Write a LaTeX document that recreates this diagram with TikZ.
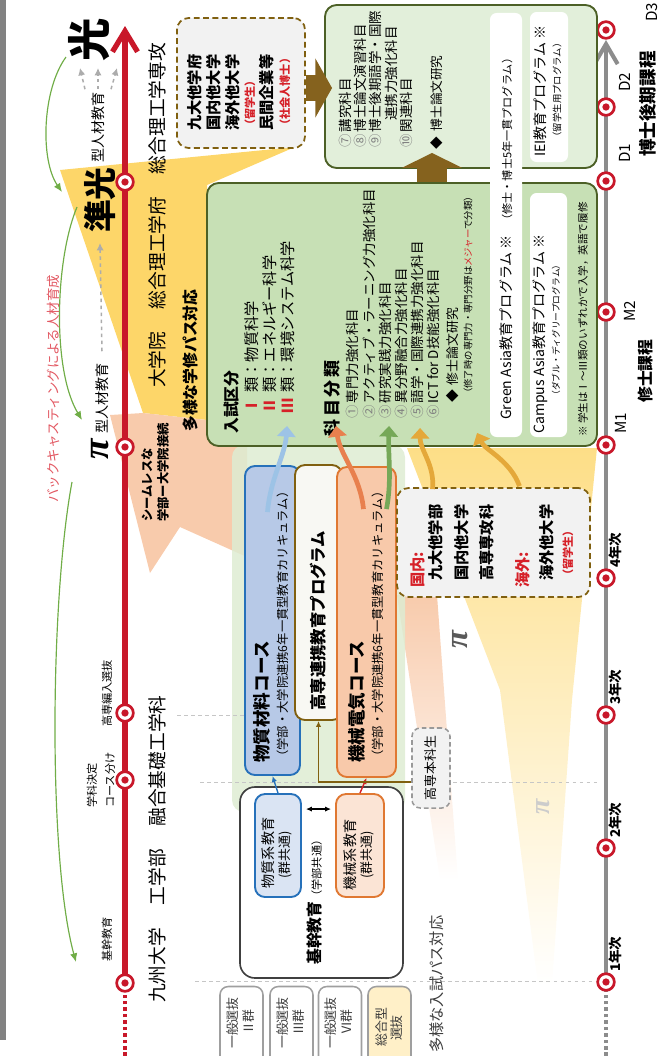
\documentclass[tikz,border=0pt]{standalone}
\usepackage{fontspec}
\setmainfont{Noto Sans CJK JP}
\newfontfamily\grkfont{Liberation Serif}
\usetikzlibrary{arrows.meta,positioning,calc}
\definecolor{timered}{RGB}{200,24,42}
\definecolor{timegray}{RGB}{140,140,140}
\definecolor{stripgray}{RGB}{130,130,130}
\definecolor{boxgreen}{RGB}{199,224,181}
\definecolor{docgreen}{RGB}{226,239,218}
\definecolor{palegreen}{RGB}{222,236,210}
\definecolor{edgegreen}{RGB}{76,96,38}
\definecolor{olive}{RGB}{128,96,16}
\definecolor{brownbar}{RGB}{133,98,30}
\definecolor{fanyellow}{RGB}{253,214,105}
\definecolor{fansalmon}{RGB}{248,203,172}
\definecolor{courseblue}{RGB}{183,201,231}
\definecolor{innerblue}{RGB}{218,228,243}
\definecolor{edgeblue}{RGB}{38,113,186}
\definecolor{courseorange}{RGB}{248,201,170}
\definecolor{innerorange}{RGB}{251,228,213}
\definecolor{edgeorange}{RGB}{224,120,50}
\definecolor{kosenfill}{RGB}{248,248,243}
\definecolor{lightbg}{RGB}{242,242,242}
\definecolor{textred}{RGB}{214,32,40}
\definecolor{arcgreen}{RGB}{112,173,71}
\definecolor{pinktext}{RGB}{226,88,98}
\definecolor{darktext}{RGB}{60,60,60}
\definecolor{flowblue}{RGB}{157,195,230}
\definecolor{floworange}{RGB}{232,128,78}
\definecolor{flowgreen}{RGB}{118,168,88}
\definecolor{flowgold}{RGB}{228,168,58}
\definecolor{sogofill}{RGB}{255,240,200}
\newcommand\setsz[1]{\fontsize{#1}{#1}\selectfont}

\tikzset{
  vt/.style={rotate=90,inner sep=0pt,anchor=west},
  vtc/.style={rotate=90,inner sep=0pt},
  stopring/.style={circle,draw=timered,line width=2.3pt,fill=white,minimum size=0.5cm,inner sep=0pt,
    path picture={\fill[timered] (path picture bounding box.center) circle (1.1mm);}},
  redline/.style={timered,line width=4.5pt},
  grayline/.style={timegray,line width=3.5pt},
  gbox/.style={draw=edgegreen,line width=1.6pt,rounded corners=0.35cm},
  dashbox/.style={draw=olive,line width=1.5pt,dash pattern=on 5pt off 3pt,fill=lightbg,rounded corners=0.35cm},
  wbox/.style={fill=white,rounded corners=0.2cm},
  coursebox/.style={line width=1.6pt,rounded corners=0.3cm},
  entrybox/.style={draw=gray!75,line width=1.3pt,fill=white,rounded corners=0.25cm,minimum width=1.29cm,minimum height=2.49cm},
  guide/.style={gray!45,dashed,line width=0.8pt},
  greenarc/.style={arcgreen,line width=1pt,-{Latex[length=2.6mm,width=2.2mm]}},
  dasharrow/.style={gray!65,dashed,line width=1.3pt,-{Latex[length=2.2mm,width=2.2mm]}},
  flow/.style={line width=4pt,-{Triangle[width=0.55cm,length=0.32cm]}},
  smallarrow/.style={line width=1.2pt,-{Latex[length=1.8mm,width=1.6mm]}},
}

\begin{document}
\begin{tikzpicture}[x=0.03cm,y=-0.03cm]
\useasboundingbox (0,0) rectangle (667,1056);
\fill[stripgray] (0,0) rectangle (6,1040);

% background fans
\fill[fanyellow] (60,170) -- (295,147) -- (207,185) -- (207,420) -- (143,413) -- cycle;
\fill[fansalmon] (110,415) -- (143,413) -- (207,420) -- (247,440) -- (247,557) -- (180,527) -- (150,573) -- cycle;
\shade[top color=fanyellow!80,bottom color=white] (407,448) -- (597,448) -- (572,700) -- (552,985) -- (538,985) -- (500,690) -- cycle;
\shade[top color=fansalmon,bottom color=white] (397,595) -- (437,595) -- (458,880) -- (440,880) -- cycle;
\fill[palegreen,opacity=0.85,rounded corners=0.36cm] (232,445) rectangle (405,812);
\draw[guide] (177,715) -- (245,715);
\draw[guide] (200,782) -- (600,782);
\draw[guide] (195,981) -- (597,981);

% red timeline
\coordinate (rbot) at (125,1056);
\coordinate (rk) at (125,983);
\coordinate (rg) at (125,780);
\coordinate (rh) at (125,713);
\coordinate (rp) at (125,447);
\coordinate (rj) at (125,182);
\coordinate (rtop) at (125,26);
\draw[redline,line width=3.5pt,dash pattern=on 3pt off 2.5pt] (rbot) -- (rk);
\draw[redline,-{Straight Barb[length=0.62cm,width=0.75cm]}] (rk) -- (rtop);
\foreach \c in {rk,rg,rh,rp,rj} \node[stopring] (m\c) at (\c) {};

% gray timeline
\coordinate (gbot) at (606,1056);
\coordinate (y1) at (606,982);
\coordinate (y2) at (606,848);
\coordinate (y3) at (606,715);
\coordinate (y4) at (606,578);
\coordinate (ym1) at (606,445);
\coordinate (ym2) at (606,312);
\coordinate (yd1) at (606,181);
\coordinate (yd2) at (606,107);
\coordinate (yd3) at (606,30);
\draw[grayline,line width=3pt,dash pattern=on 3pt off 2.5pt] (gbot) -- (y1);
\draw[grayline] (y1) -- (yd1);
\draw[grayline,-{Straight Barb[length=0.6cm,width=0.7cm]}] (yd1) -- ($(yd3)+(0,10)$);
\foreach \c in {y1,y2,y3,y4,ym1,ym2,yd1,yd2,yd3} \node[stopring] (m\c) at (\c) {};

\node[vt,font=\setsz{11.5}\bfseries] (l1) at (615,972) {1年次};
\node[vt,font=\setsz{11.5}\bfseries] (l2) at (615,838) {2年次};
\node[vt,font=\setsz{11.5}\bfseries] (l3) at (615,705) {3年次};
\node[vt,font=\setsz{11.5}\bfseries] (l4) at (615,568) {4年次};
\node[vt,font=\setsz{13}] (lm1) at (621,434) {M1};
\node[vt,font=\setsz{13}] (lm2) at (630,322) {M2};
\node[vt,font=\setsz{13}] (ld1) at (625,163) {D1};
\node[vt,font=\setsz{13}] (ld2) at (625,92) {D2};
\node[vt,font=\setsz{13}] (ld3) at (652,22) {D3};
\node[vt,font=\setsz{13.5}\bfseries] (mcourse) at (645,403) {修士課程};
\node[vt,font=\setsz{15}\bfseries] (dcourse) at (648,157) {博士後期課程};

% left column labels
\node[vtc,font=\setsz{37}\bfseries] (hikari) at (89,40) {光};
\node[vtc,font=\setsz{28}\bfseries] (junko) at (100,200) {準光};
\node[vt,font=\setsz{12}] (jkup) at (98,163) {型人材教育};
\node[vtc,font=\grkfont\setsz{32}\bfseries\itshape] (pimark) at (100,449) {π};
\node[vt,font=\setsz{12}] (jklow) at (102,434) {型人材教育};
\node[vt,font=\setsz{16}] (gradttl) at (157,388) {大学院\hspace{1.2em}総合理工学府\hspace{1.2em}総合理工学専攻};
\node[vt,font=\setsz{13.5}\bfseries] (gradpath) at (190,432) {多様な学修パス対応};
\node[vt,font=\setsz{10.5}\bfseries] (seam1) at (147,522) {シームレスな};
\node[vt,font=\setsz{10.5}\bfseries] (seam2) at (163,522) {学部ー大学院接続};
\node[vt,font=\setsz{16}] (ugttl) at (157,1003) {九州大学\hspace{1.2em}工学部\hspace{1.2em}融合基礎工学科};
\node[vt,font=\setsz{13},text=darktext] (ugpath) at (437,1053) {多様な入試パス対応};
\node[vt,font=\setsz{9.5}] (lkikan) at (107,962) {基幹教育};
\node[vt,font=\setsz{9.5}] (lgakka1) at (92,808) {学科決定};
\node[vt,font=\setsz{9.5}] (lgakka2) at (110,808) {コース分け};
\node[vt,font=\setsz{9.5}] (lhennyu) at (107,727) {高専編入選抜};
\node[vt,font=\setsz{11.5},text=pinktext] (backcast) at (53,503) {バックキャスティングによる人材育成};

% backcasting arcs and dashed arrows
\coordinate (a1s) at (66,57);
\coordinate (a1e) at (62,192);
\coordinate (a2s) at (77,207);
\coordinate (a2e) at (82,420);
\coordinate (a3s) at (72,482);
\coordinate (a3e) at (76,962);
\draw[greenarc] (a1s) .. controls (42,90) and (40,160) .. (a1e);
\draw[greenarc] (a2s) .. controls (55,260) and (52,370) .. (a2e);
\draw[greenarc] (a3s) .. controls (50,600) and (48,860) .. (a3e);
\coordinate (upl) at (80,68);
\coordinate (upc) at (98,68);
\coordinate (upr) at (117,68);
\draw[dasharrow] ($(jkup.east)+(-13,-3)$) -- (upl);
\draw[dasharrow] ($(jkup.east)+(0,-3)$) -- (upc);
\draw[dasharrow] ($(jkup.east)+(13,-3)$) -- (upr);
\draw[dasharrow] ($(jklow.east)+(0,-12)$) -- ($(junko.west)+(0,10)$);

% graduate school boxes
\node[gbox,fill=boxgreen,minimum width=11.7cm,minimum height=7.89cm] (master) at (402,314.5) {};
\node[gbox,fill=docgreen,minimum width=8.16cm,minimum height=4.89cm] (docbox) at (461,86.5) {};
\node[wbox,minimum width=0.96cm,minimum height=12.72cm] (gabox) at (506,225) {};
\node[wbox,minimum width=1.11cm,minimum height=7.32cm] (cabox) at (548.5,315) {};
\node[wbox,minimum width=1.14cm,minimum height=4.5cm] (ieibox) at (549,87) {};
\node[dashbox,minimum width=3.84cm,minimum height=3.9cm] (other) at (241,83) {};

\draw[brownbar,line width=0.8cm,-{Triangle[width=1.75cm,length=0.5cm]}] ($(other.east)+(0,5)$) -- ($(other.east -| docbox.west)+(8,5)$);
\draw[brownbar,line width=0.9cm,-{Triangle[width=1.8cm,length=0.45cm]}] ($(master.north)+(30,0)$) -- ($(docbox.south -| master.north)+(30,-16)$);

\node[vt,font=\setsz{13}\bfseries] (o1) at (195,131) {九大他学府};
\node[vt,font=\setsz{13}\bfseries] (o2) at (214,131) {国内他大学};
\node[vt,font=\setsz{13}\bfseries] (o3) at (233,131) {海外他大学};
\node[vt,font=\setsz{9.5}\bfseries,text=textred] (o4) at (250,131) {（留学生）};
\node[vt,font=\setsz{13}\bfseries] (o5) at (267,131) {民間企業等};
\node[vt,font=\setsz{9.5}\bfseries,text=textred] (o6) at (285,131) {（社会人博士）};

\node[vt,font=\setsz{13.5}\bfseries] (nyushi) at (232,434) {入試区分};
\node[vt,font=\setsz{13}] (rui1) at (252,414) {{\color{textred}\bfseries Ⅰ}\hspace{5pt}類：物質科学};
\node[vt,font=\setsz{13}] (rui2) at (270,414) {{\color{textred}\bfseries Ⅱ}\hspace{5pt}類：エネルギー科学};
\node[vt,font=\setsz{13}] (rui3) at (288,414) {{\color{textred}\bfseries Ⅲ}\hspace{5pt}類：環境システム科学};
\node[vt,font=\setsz{14.5}\bfseries] (kamoku) at (332,437) {科\,目\,分\,類};
\node[vt,font=\setsz{11.5}] (k1) at (352,419) {{\color{gray}①}\,専門力強化科目};
\node[vt,font=\setsz{11.5}] (k2) at (369,419) {{\color{gray}②}\,アクティブ・ラーニング力強化科目};
\node[vt,font=\setsz{11.5}] (k3) at (385,419) {{\color{gray}③}\,研究実践力強化科目};
\node[vt,font=\setsz{11.5}] (k4) at (401,419) {{\color{gray}④}\,異分野融合力強化科目};
\node[vt,font=\setsz{11.5}] (k5) at (417,419) {{\color{gray}⑤}\,語学・国際連携力強化科目};
\node[vt,font=\setsz{11.5}] (k6) at (433,419) {{\color{gray}⑥}\,ICT for D技能強化科目};
\node[vt,font=\setsz{11}] (thesism) at (453,403) {◆\hspace{4pt}修士論文研究};
\node[vt,font=\setsz{8}] (thesisnote) at (468,398) {（修了時の専門力・専門分野は{\color{textred}メジャー}で分類）};
\node[vt,font=\setsz{12}] (ga) at (506,420) {Green Asia教育プログラム ※\hspace{8pt}{\setsz{9.5}（修士・博士5年一貫プログラム）}};
\node[vtc,font=\setsz{12}] (ca1) at (540,334) {Campus Asia教育プログラム ※};
\node[vtc,font=\setsz{7.5}] (ca2) at (556,330) {（ダブル・ディグリープログラム）};
\node[vt,font=\setsz{9}] (entnote) at (583,437) {※ 学生はⅠ〜Ⅲ類のいずれかで入学，英語で履修};

\node[vt,font=\setsz{11.5}] (d7) at (345,148) {{\color{gray}⑦}\,講究科目};
\node[vt,font=\setsz{11.5}] (d8) at (360,148) {{\color{gray}⑧}\,博士論文演習科目};
\node[vt,font=\setsz{11.5}] (d9) at (375,148) {{\color{gray}⑨}\,博士後期語学・国際};
\node[vt,font=\setsz{11.5}] (d9b) at (391,121) {連携力強化科目};
\node[vt,font=\setsz{11.5}] (d10) at (406,148) {{\color{gray}⑩}\,関連科目};
\node[vt,font=\setsz{10.8}] (thesisd) at (437,150) {◆\hspace{5pt}博士論文研究};
\node[vtc,font=\setsz{12}] (iei1) at (540,91) {IEI教育プログラム ※};
\node[vtc,font=\setsz{8}] (iei2) at (557,90) {（留学生用プログラム）};

% undergraduate boxes
\node[coursebox,draw=edgeblue,fill=courseblue,minimum width=1.65cm,minimum height=9.27cm] (bluecourse) at (272.5,620.5) {};
\node[coursebox,draw=olive,fill=kosenfill,minimum width=1.41cm,minimum height=7.65cm] (kosen) at (318.5,592.5) {};
\node[coursebox,draw=edgeorange,fill=courseorange,minimum width=1.77cm,minimum height=9.3cm] (orangecourse) at (366.5,622) {};
\node[vt,font=\setsz{15}\bfseries] (bluettl) at (262,763) {物質材料コース};
\node[vt,font=\setsz{10.5}] (bluesub) at (283,763) {（学部・大学院連携6年一貫型教育カリキュラム）};
\node[vt,font=\setsz{14}\bfseries] (kosenttl) at (318,711) {高専連携教育プログラム};
\node[vt,font=\setsz{15}\bfseries] (orangettl) at (357,763) {機械電気コース};
\node[vt,font=\setsz{10.5}] (orangesub) at (378,763) {（学部・大学院連携6年一貫型教育カリキュラム）};

\node[draw=black!75,line width=1.4pt,fill=white,rounded corners=0.45cm,minimum width=4.89cm,minimum height=5.73cm] (kikan) at (321.5,882.5) {};
\node[coursebox,draw=edgeblue,fill=innerblue,minimum width=1.38cm,minimum height=3.09cm] (ibox) at (278,845.5) {};
\node[coursebox,draw=edgeorange,fill=innerorange,minimum width=1.44cm,minimum height=3.09cm] (obox) at (360,845.5) {};
\node[vt] (kikanttl) at (315,965) {{\setsz{13.5}\bfseries 基幹教育}{\setsz{9.5}（学部共通）}};
\node[vtc,font=\setsz{12}] (ibt1) at (268,853) {物質系教育};
\node[vtc,font=\setsz{11}] (ibt2) at (285,855) {(群共通)};
\node[vtc,font=\setsz{12}] (obt1) at (350,855) {機械系教育};
\node[vtc,font=\setsz{11}] (obt2) at (367,855) {(群共通)};

\node[draw=gray!80,line width=1.3pt,dash pattern=on 4pt off 2.5pt,fill=lightbg,rounded corners=0.25cm,minimum width=1.14cm,minimum height=2.4cm] (honka) at (431,768) {};
\node[vtc,font=\setsz{11}] (honkat) at (431,768) {高専本科生};

\draw[smallarrow,edgeblue] (ibox.north) -- (bluecourse.south);
\draw[smallarrow,textred] (obox.north) -- (orangecourse.south);
\draw[line width=1.2pt,{Latex[length=1.8mm,width=1.6mm]}-{Latex[length=1.8mm,width=1.6mm]}] ($(ibox.north east)+(4,16)$) -- ($(obox.north west)+(-4,16)$);
\draw[smallarrow,olive] ($(honka.west)+(0,14)$) -| (kosen.south);

% entrance routes
\foreach \cx/\nm/\grp in {241.5/ent1/Ⅱ群,291.5/ent2/Ⅲ群,340/ent3/Ⅵ群}{
  \node[entrybox] (\nm) at (\cx,1028) {};
  \node[vtc,font=\setsz{11},text=darktext] (\nm a) at (\cx-9,1023) {一般選抜};
  \node[vtc,font=\setsz{11},text=darktext] (\nm b) at (\cx+7,1022) {\grp};
}
\node[entrybox,fill=sogofill] (ent4) at (389.5,1028) {};
\node[vtc,font=\setsz{11},text=darktext] (ent4a) at (382,1027) {総合型};
\node[vtc,font=\setsz{11},text=darktext] (ent4b) at (397,1028) {選抜};

% other entrants
\node[dashbox,minimum width=5.79cm,minimum height=3.27cm] (domestic) at (493.5,542.5) {};
\node[vt,font=\setsz{13}\bfseries,text=textred] (kokunai) at (418,588) {国内:};
\node[vt,font=\setsz{13}\bfseries] (dm1) at (436,581) {九大他学部};
\node[vt,font=\setsz{13}\bfseries] (dm2) at (462,581) {国内他大学};
\node[vt,font=\setsz{13}\bfseries] (dm3) at (487,581) {高専専攻科};
\node[vt,font=\setsz{13}\bfseries,text=textred] (kaigai) at (523,588) {海外:};
\node[vt,font=\setsz{13}\bfseries] (dm4) at (547,581) {海外他大学};
\node[vt,font=\setsz{9.5}\bfseries,text=textred] (dm5) at (568,581) {（留学生）};

% flows into master's programme
\draw[flow,flowblue] ($(bluecourse.north)+(-5,47)$) .. controls (270,480) and (285,455) .. ($(master.south west)+(81,-21)$);
\draw[flow,floworange] ($(orangecourse.north)+(-3,43)$) .. controls (360,475) and (340,455) .. ($(master.south west)+(130,-21)$);
\draw[flow,flowgreen] ($(orangecourse.north)+(20,43)$) .. controls (392,480) and (388,455) .. ($(master.south west)+(183,-21)$);
\draw[flow,flowgold] ($(domestic.north)+(-61,2)$) .. controls (435,465) and (420,450) .. ($(master.south west)+(214,-19)$);
\draw[flow,flowgold] ($(domestic.north)+(26,-1)$) .. controls (510,460) and (485,450) .. ($(master.south west)+(271,-14)$);

\node[vtc,font=\grkfont\setsz{28}\bfseries\itshape,text=gray!70!black] (pimid) at (460,640) {π};
\node[vtc,font=\grkfont\setsz{24}\bfseries\itshape,text=gray!40] (pilow) at (543,807) {π};
\end{tikzpicture}
\end{document}
